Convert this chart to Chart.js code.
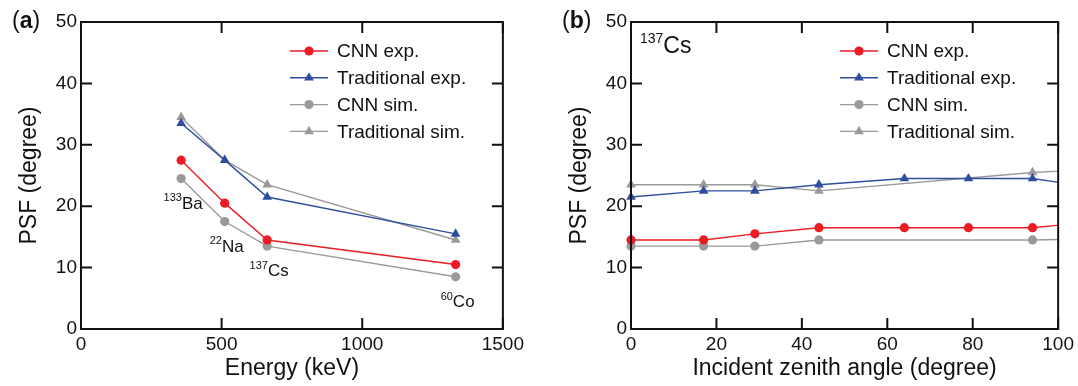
<!DOCTYPE html>
<html>
<head>
<meta charset="utf-8">
<script src="https://cdn.jsdelivr.net/npm/chart.js@4.4.1/dist/chart.umd.min.js"></script>
<style>
  html, body { margin: 0; padding: 0; background: #fff; }
  #wrap { position: relative; width: 1078px; height: 386px; }
  canvas { position: absolute; top: 0; width: 528px; height: 386px; }
  #panelA { left: 0; }
  #panelB { left: 550px; }
</style>
</head>
<body>
<div id="wrap">
  <canvas id="panelA" width="528" height="386"></canvas>
  <canvas id="panelB" width="528" height="386"></canvas>
</div>
<script>
// ---- data ----
const energyKeV     = [356, 511, 662, 1332];
const isotopeMass   = ['133', '22', '137', '60'];
const isotopeSymbol = ['Ba', 'Na', 'Cs', 'Co'];
const energyCnnExp  = [27.5, 20.5, 14.5, 10.5];
const energyTradExp = [33.5, 27.5, 21.5, 15.5];
const energyCnnSim  = [24.5, 17.5, 13.5, 8.5];
const energyTradSim = [34.5, 27.5, 23.5, 14.5];

// last point lies past the 100° edge and is only seen as the clipped line
const angleDeg     = [0, 17, 29, 44, 64, 79, 94, 109];
const angleCnnExp  = [14.5, 14.5, 15.5, 16.5, 16.5, 16.5, 16.5, 17.5];
const angleTradExp = [21.5, 22.5, 22.5, 23.5, 24.5, 24.5, 24.5, 23.0];
const angleCnnSim  = [13.5, 13.5, 13.5, 14.5, null, null, 14.5, 14.7];
const angleTradSim = [23.5, 23.5, 23.5, 22.5, null, null, 25.5, 26.0];

const psfTicks    = [0, 10, 20, 30, 40, 50];
const energyTicks = [0, 500, 1000, 1500];
const angleTicks  = [0, 20, 40, 60, 80, 100];

const seriesLabels = ['CNN exp.', 'Traditional exp.', 'CNN sim.', 'Traditional sim.'];

// ---- styles ----
const FONT = '"Liberation Sans", Arial, Helvetica, sans-serif';
const INK = '#111';
const STYLES = [
  { color: '#ec1c24', pointStyle: 'circle',   radius: 4.6 },
  { color: '#2f4ea0', pointStyle: 'triangle', radius: 5.6 },
  { color: '#9a9a9a', pointStyle: 'circle',   radius: 4.6 },
  { color: '#9a9a9a', pointStyle: 'triangle', radius: 5.6 },
];
const TICK = 11;

function drawMarker(ctx, style, x, y) {
  ctx.save();
  ctx.fillStyle = style.color;
  ctx.beginPath();
  if (style.pointStyle === 'circle') {
    ctx.arc(x, y, style.radius, 0, Math.PI * 2);
  } else {
    let rad = 0;
    const r = style.radius;
    ctx.moveTo(x + Math.sin(rad) * r, y - Math.cos(rad) * r);
    rad += Math.PI * 2 / 3;
    ctx.lineTo(x + Math.sin(rad) * r, y - Math.cos(rad) * r);
    rad += Math.PI * 2 / 3;
    ctx.lineTo(x + Math.sin(rad) * r, y - Math.cos(rad) * r);
    ctx.closePath();
  }
  ctx.fill();
  ctx.restore();
}

// superscript mass number + element symbol
function drawIsotope(ctx, mass, sym, x, baseline, supSize, mainSize, align) {
  ctx.font = `${supSize}px ${FONT}`;
  const wSup = ctx.measureText(mass).width;
  ctx.font = `${mainSize}px ${FONT}`;
  const wMain = ctx.measureText(sym).width;
  const x0 = align === 'center' ? x - (wSup + wMain) / 2 : x;
  ctx.textAlign = 'left';
  ctx.textBaseline = 'alphabetic';
  ctx.font = `${supSize}px ${FONT}`;
  ctx.fillText(mass, x0, baseline - mainSize * 0.42);
  ctx.font = `${mainSize}px ${FONT}`;
  ctx.fillText(sym, x0 + wSup, baseline);
}

const framePlugin = {
  id: 'frame',
  afterDatasetsDraw(chart) {
    const { ctx, chartArea: a, scales: { x, y } } = chart;
    ctx.save();
    ctx.strokeStyle = INK;
    ctx.lineWidth = 2;
    ctx.beginPath();
    x.ticks.forEach(t => {
      const px = x.getPixelForValue(t.value);
      ctx.moveTo(px, a.bottom); ctx.lineTo(px, a.bottom - TICK);
      ctx.moveTo(px, a.top);    ctx.lineTo(px, a.top + TICK);
    });
    y.ticks.forEach(t => {
      const py = y.getPixelForValue(t.value);
      ctx.moveTo(a.left, py);  ctx.lineTo(a.left + TICK, py);
      ctx.moveTo(a.right, py); ctx.lineTo(a.right - TICK, py);
    });
    ctx.stroke();
    ctx.strokeRect(a.left, a.top, a.right - a.left, a.bottom - a.top);
    ctx.restore();
  }
};

const legendPlugin = {
  id: 'insideLegend',
  afterDraw(chart) {
    const { ctx, chartArea: a } = chart;
    ctx.save();
    chart.data.datasets.forEach((ds, i) => {
      const st = STYLES[i];
      const y = a.top + 29 + i * 26.8;
      const x0 = a.left + 209, x1 = a.left + 247;
      ctx.strokeStyle = st.color;
      ctx.lineWidth = 1.4;
      ctx.beginPath(); ctx.moveTo(x0, y); ctx.lineTo(x1, y); ctx.stroke();
      drawMarker(ctx, st, (x0 + x1) / 2, y);
      ctx.fillStyle = INK;
      ctx.font = `19px ${FONT}`;
      ctx.textAlign = 'left';
      ctx.textBaseline = 'middle';
      ctx.fillText(ds.label, a.left + 256, y + 1);
    });
    ctx.restore();
  }
};

const notesPlugin = {
  id: 'notes',
  afterDraw(chart, args, opts) {
    const { ctx, chartArea: a, scales: { x, y } } = chart;
    ctx.save();
    ctx.fillStyle = INK;
    // panel letter
    ctx.textBaseline = 'middle';
    ctx.textAlign = 'left';
    let px = 12;
    [['(', ''], [opts.letter, 'bold '], [')', '']].forEach(([s, w]) => {
      ctx.font = `${w}23px ${FONT}`;
      ctx.fillText(s, px, 22);
      px += ctx.measureText(s).width;
    });
    if (opts.isotopes) {
      energyKeV.forEach((e, i) => {
        drawIsotope(ctx, isotopeMass[i], isotopeSymbol[i],
          x.getPixelForValue(e) + 2, y.getPixelForValue(energyCnnSim[i]) + 30, 11, 17, 'center');
      });
    }
    if (opts.source) {
      drawIsotope(ctx, '137', 'Cs', a.left + 9, a.top + 31, 14, 23, 'left');
    }
    ctx.restore();
  }
};

function makeDatasets(xs, ys) {
  return ys.map((vals, i) => ({
    label: seriesLabels[i],
    data: xs.map((xv, j) => ({ x: xv, y: vals[j] })),
    borderColor: STYLES[i].color,
    backgroundColor: STYLES[i].color,
    borderWidth: 1.4,
    pointStyle: STYLES[i].pointStyle,
    pointRadius: STYLES[i].radius,
    pointBorderWidth: 0,
    pointBackgroundColor: STYLES[i].color,
    tension: 0,
    spanGaps: true,
    clip: { left: 8, top: 0, right: 0, bottom: 0 },
  }));
}

function axisTitle(text, padding) {
  return { display: true, text, color: INK, font: { family: FONT, size: 23 }, padding };
}

function makePanel(id, xs, ys, xMin, xMax, xTicks, xTitle, notes) {
  new Chart(document.getElementById(id).getContext('2d'), {
    type: 'line',
    data: { datasets: makeDatasets(xs, ys) },
    options: {
      responsive: false,
      animation: false,
      devicePixelRatio: 1,
      layout: { padding: { left: 0, right: 18, top: 22, bottom: 0 } },
      plugins: { legend: { display: false }, tooltip: { enabled: false }, notes },
      scales: {
        x: {
          type: 'linear', min: xMin, max: xMax,
          afterBuildTicks: s => { s.ticks = xTicks.map(v => ({ value: v })); },
          afterFit: s => { s.height = 57; },
          ticks: { color: INK, font: { family: FONT, size: 19 }, padding: 4, maxRotation: 0, callback: v => String(v) },
          grid: { display: false, drawTicks: false },
          border: { display: false },
          title: axisTitle(xTitle, { top: 0, bottom: 4 }),
        },
        y: {
          type: 'linear', min: 0, max: 50,
          afterBuildTicks: s => { s.ticks = psfTicks.map(v => ({ value: v })); },
          afterFit: s => { s.width = 81; },
          ticks: { color: INK, font: { family: FONT, size: 19 }, padding: 4, callback: v => String(v) },
          grid: { display: false, drawTicks: false },
          border: { display: false },
          title: axisTitle('PSF (degree)', { top: 16, bottom: 0 }),
        }
      }
    },
    plugins: [framePlugin, legendPlugin, notesPlugin],
  });
}

makePanel('panelA', energyKeV, [energyCnnExp, energyTradExp, energyCnnSim, energyTradSim],
  0, 1500, energyTicks, 'Energy (keV)', { letter: 'a', isotopes: true });
makePanel('panelB', angleDeg, [angleCnnExp, angleTradExp, angleCnnSim, angleTradSim],
  0, 100, angleTicks, 'Incident zenith angle (degree)', { letter: 'b', source: true });
</script>
</body>
</html>
